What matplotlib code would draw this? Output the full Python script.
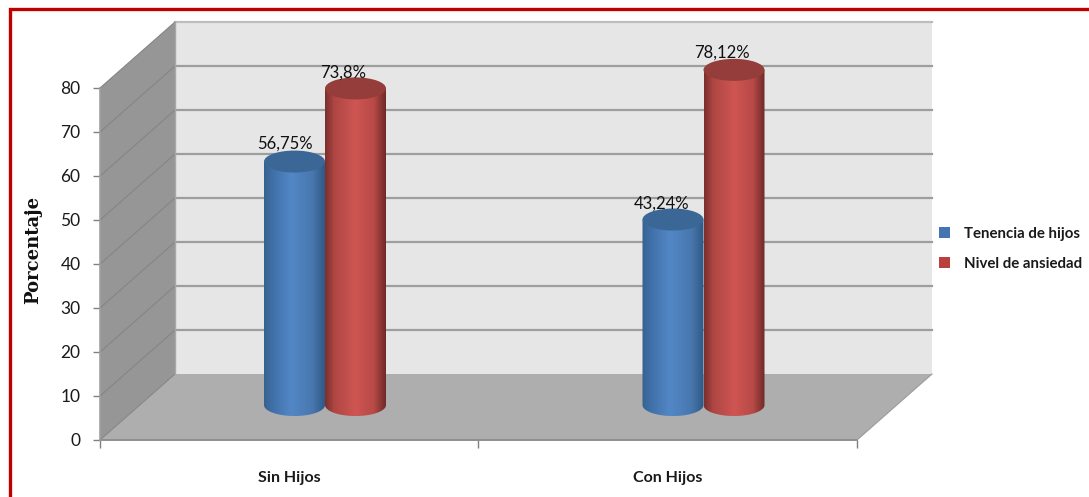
import numpy as np
import matplotlib
matplotlib.use("Agg")
import matplotlib.pyplot as plt
from matplotlib.patches import Polygon, Ellipse, PathPatch, Rectangle, Patch
from matplotlib.path import Path
from matplotlib.colors import LinearSegmentedColormap

categories = ["Sin Hijos", "Con Hijos"]
series_names = ["Tenencia de hijos", "Nivel de ansiedad"]
tenencia = [56.75, 43.24]
ansiedad = [73.8, 78.12]
label_tenencia = ["56,75%", "43,24%"]
label_ansiedad = ["73,8%", "78,12%"]
yticks = [0, 10, 20, 30, 40, 50, 60, 70, 80]

W, H = 1089, 497
L, R, B, T = 100, 857, 440, 88          # front plane in pixels
fig = plt.figure(figsize=(W / 100, H / 100), dpi=100, facecolor="white")
ax = fig.add_axes([L / W, 1 - B / H, (R - L) / W, (B - T) / H])
ax.set_xlim(0, 2)
ax.set_ylim(0, 80)
ax.patch.set_visible(False)
for s in ax.spines.values():
    s.set_visible(False)

px = 2 / (R - L)      # data units per horizontal pixel
py = 80 / (B - T)     # data units per vertical pixel
DX, DY = 75 * px, 66 * py

# red frame
fig.add_artist(Rectangle((9.5 / W, -0.1), 1.2, 1.1 - 8.5 / H, transform=fig.transFigure,
                         fill=False, ec="#C00000", lw=2.4))

# walls
ax.add_patch(Polygon([(DX, DY), (2 + DX, DY), (2 + DX, 80 + DY), (DX, 80 + DY)],
                     fc="#E6E6E6", ec="none", clip_on=False, zorder=1))
ax.add_patch(Polygon([(0, 0), (DX, DY), (DX, 80 + DY), (0, 80)],
                     fc="#969696", ec="none", clip_on=False, zorder=1))
ax.add_patch(Polygon([(0, 0), (2, 0), (2 + DX, DY), (DX, DY)],
                     fc="#AEAEAE", ec="none", clip_on=False, zorder=1))

# gridlines
for v in yticks:
    if 0 < v < 80:
        ax.plot([DX, 2 + DX], [v + DY, v + DY], color="#9E9E9E", lw=1.6, clip_on=False, zorder=2)
    if v == 80:
        ax.plot([DX, 2 + DX], [v + DY, v + DY], color="#BDBDBD", lw=1.6, clip_on=False, zorder=2)
    ax.plot([0, DX], [v, v + DY], color="#858585", lw=0.8, clip_on=False, zorder=2)
ax.plot([DX, DX], [DY, 80 + DY], color="#A8A8A8", lw=1.0, clip_on=False, zorder=2)
ax.plot([0, 2], [0, 0], color="#8F8F8F", lw=1.4, clip_on=False, zorder=2)
ax.plot([2, 2 + DX], [0, DY], color="#9A9A9A", lw=0.8, clip_on=False, zorder=2)
ax.plot([0, 0], [0, 80], color="#A0A0A0", lw=1.2, clip_on=False, zorder=2)

# axes ticks
ax.set_yticks(yticks)
ax.set_xticks([0, 1, 2])
ax.set_xticklabels([])
ax.set_xticks([0.5, 1.5], minor=True)
ax.set_xticklabels(categories, minor=True, fontfamily="Lato", fontweight="bold",
                   fontsize=11.5, color="#1a1a1a")
ax.tick_params(axis="x", which="major", length=6, color="#808080", width=1)
ax.tick_params(axis="x", which="minor", length=0, pad=22)
ax.tick_params(axis="y", length=5, color="#808080", width=1, pad=9, labelsize=12.5,
               labelcolor="#1a1a1a")
for t in ax.get_yticklabels():
    t.set_fontfamily("Lato")
for t in ax.get_xticklabels(minor=True):
    t.set_x(t.get_position()[0])

# cylinders
DEPTH = 0.53
SCALE = 0.975
BW = 61 * px
EH = 11 * py
SHIFT = -4 * px
cmaps = [
    LinearSegmentedColormap.from_list("b", [(0, "#36628F"), (0.12, "#3F6EA6"), (0.45, "#5287C6"),
                                            (0.8, "#4877AE"), (1, "#2F5885")]),
    LinearSegmentedColormap.from_list("r", [(0, "#7A2E2C"), (0.15, "#AE4643"), (0.5, "#CF5552"),
                                            (0.8, "#B84A47"), (1, "#6E2A28")]),
]
top_cols = ["#3B6797", "#953D3A"]
grad = np.linspace(0, 1, 256).reshape(1, -1)


def cylinder(xc, val, k, z):
    y0 = DEPTH * DY
    y1 = y0 + val * SCALE
    xl, xr = xc - BW / 2, xc + BW / 2
    th = np.linspace(np.pi, 2 * np.pi, 60)
    bx = xc + BW / 2 * np.cos(th)
    by = y0 + EH * np.sin(th)
    verts = list(zip(bx, by)) + [(xr, y1), (xl, y1), (xl, y0)]
    clip = Path(verts + [(xl, y0)], [Path.MOVETO] + [Path.LINETO] * (len(verts) - 1) + [Path.CLOSEPOLY])
    patch = PathPatch(clip, fc="none", ec="none", transform=ax.transData, clip_on=False)
    ax.add_patch(patch)
    im = ax.imshow(grad, extent=[xl, xr, y0 - EH, y1], cmap=cmaps[k], aspect="auto",
                   origin="lower", zorder=z)
    im.set_clip_box(fig.bbox)
    im.set_clip_path(patch)
    ax.add_patch(Ellipse((xc, y1), BW, 2 * EH, fc=top_cols[k], ec="none", clip_on=False, zorder=z + 0.1))
    return xc, y1


values = [tenencia, ansiedad]
labels = [label_tenencia, label_ansiedad]
centers = [-0.5, 0.5]
offs = [[(-10, 18), (-11, 16)], [(-12, 16), (-12, 17)]]
for k, (vals, labs) in enumerate(zip(values, labels)):
    for i, v in enumerate(vals):
        xc = i + 0.5 + DEPTH * DX + SHIFT + centers[k] * BW
        x, y = cylinder(xc, v, k, 5 + k)
        ox, oy = offs[k][i]
        ax.annotate(labs[i], (x, y), xytext=(ox * 0.72, oy * 0.72), textcoords="offset points",
                    ha="center", va="center", fontfamily="Lato", fontsize=12,
                    color="#111111", zorder=10, annotation_clip=False)
ax.set_xlim(0, 2)
ax.set_ylim(0, 80)

ax.set_ylabel("Porcentaje", fontfamily="DejaVu Serif", fontweight="bold", fontsize=13,
              color="#111111", va="center")
ax.yaxis.set_label_coords((33 - L) / (R - L), (B - 250) / (B - T))

handles = [Patch(fc="#4474B2", ec="none"), Patch(fc="#B9403D", ec="none")]
leg = ax.legend(handles, series_names, loc="center left", frameon=False,
                bbox_to_anchor=((932 - L) / (R - L), (B - 249) / (B - T)),
                prop={"family": "Lato", "weight": "bold", "size": 10.8},
                handlelength=0.75, handleheight=0.75, handletextpad=0.95,
                labelspacing=1.05, borderpad=0, borderaxespad=0.45, labelcolor="#1a1a1a")

fig.savefig("out.png", dpi=100, facecolor="white")
